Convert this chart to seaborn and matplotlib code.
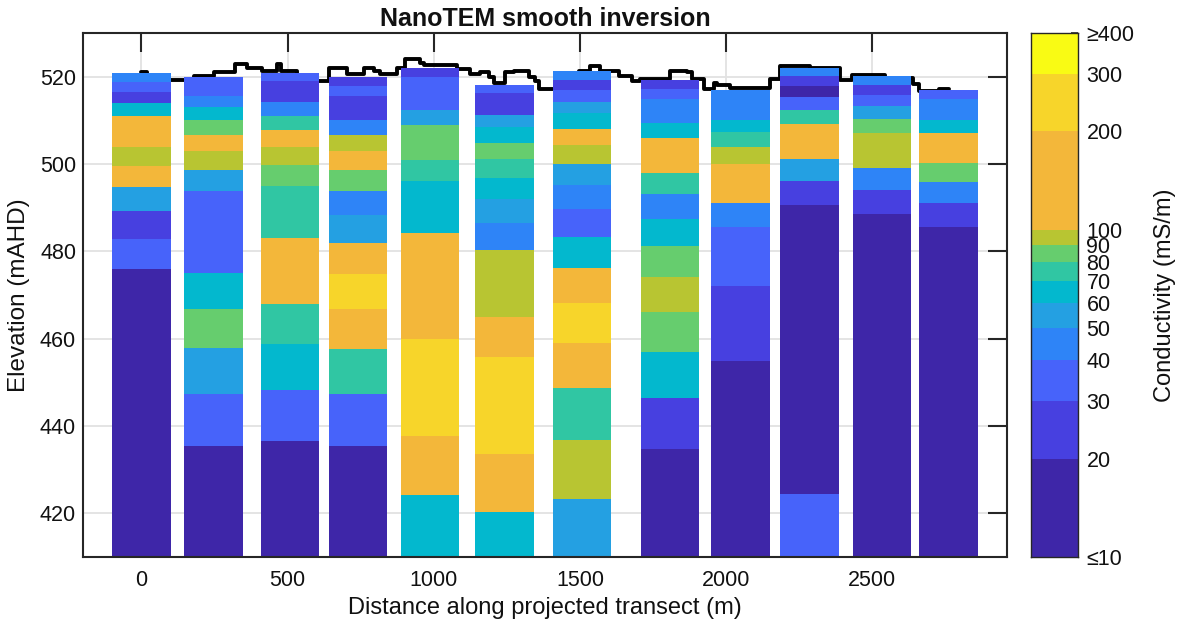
import matplotlib
matplotlib.use("Agg")
import matplotlib.pyplot as plt
from matplotlib.colors import ListedColormap, BoundaryNorm
import pandas as pd
import seaborn as sns

# Sounding positions along the projected transect (m)
station_dist = [0, 247, 508, 740, 987, 1242, 1507, 1809, 2049, 2286, 2533, 2761]

# Ground elevation at each sounding (mAHD)
station_top = [520.8, 519.9, 520.9, 519.9, 522.1, 518.1, 521.2, 519.2, 517.0, 522.1, 520.2, 517.0]

# Base of the deepest layer of every model (mAHD)
model_base = 400.0

# Layer base elevations (mAHD) for each sounding, top to bottom
layer_base = [
    [518.7, 516.6, 514.0, 510.9, 503.9, 499.6, 494.7, 489.2, 482.9, 475.9, model_base],
    [515.6, 513.1, 510.1, 506.7, 503.0, 498.7, 493.8, 475.0, 466.9, 457.8, 447.3, 435.5, model_base],
    [518.9, 514.1, 511.0, 507.8, 504.0, 499.7, 494.9, 483.1, 467.9, 458.8, 448.3, 436.5, model_base],
    [517.9, 515.6, 510.1, 506.7, 503.0, 498.6, 493.8, 488.3, 482.0, 474.9, 466.9, 457.7, 447.3, 435.4, model_base],
    [519.9, 512.3, 509.0, 500.9, 496.1, 484.2, 460.0, 437.7, 424.3, model_base],
    [516.2, 511.2, 508.4, 504.9, 501.2, 496.9, 492.1, 486.5, 480.2, 465.0, 455.9, 433.7, 420.2, model_base],
    [519.2, 517.0, 514.3, 511.6, 508.1, 504.4, 500.1, 495.3, 489.7, 483.4, 476.3, 468.2, 459.0, 448.6, 436.8, 423.4, model_base],
    [517.2, 514.9, 509.4, 506.0, 498.0, 493.1, 487.5, 481.3, 474.2, 466.2, 457.0, 446.5, 434.7, model_base],
    [510.1, 507.3, 503.9, 500.1, 491.0, 485.5, 472.1, 454.8, model_base],
    [520.2, 517.9, 515.3, 512.4, 509.1, 501.1, 496.2, 490.7, 424.4, model_base],
    [518.1, 515.9, 513.3, 510.4, 507.0, 499.0, 494.1, 488.6, model_base],
    [515.0, 510.1, 507.2, 500.2, 495.9, 491.1, 485.5, model_base],
]

# Layer conductivities (mS/m) for each sounding, top to bottom
layer_sigma = [
    [45, 35, 25, 65, 150, 95, 150, 55, 25, 35, 15],
    [35, 45, 65, 85, 150, 95, 55, 35, 65, 85, 55, 35, 15],
    [35, 25, 45, 75, 150, 95, 85, 75, 150, 75, 65, 35, 15],
    [25, 35, 25, 45, 95, 150, 85, 45, 55, 150, 250, 150, 75, 35, 15],
    [25, 35, 55, 85, 75, 65, 150, 250, 150, 65],
    [35, 25, 55, 65, 85, 75, 65, 55, 45, 95, 150, 250, 150, 65],
    [45, 25, 35, 55, 65, 150, 95, 55, 45, 35, 65, 150, 250, 150, 75, 95, 55],
    [25, 35, 45, 65, 150, 75, 45, 65, 85, 95, 85, 65, 25, 15],
    [45, 65, 75, 95, 150, 45, 35, 25, 15],
    [45, 25, 15, 35, 75, 150, 55, 25, 15, 35],
    [45, 25, 35, 55, 85, 95, 45, 25, 15],
    [35, 45, 65, 150, 85, 45, 25, 15],
]

# Ground surface profile along the transect (step breakpoints, m / mAHD)
topo_dist = [0, 19, 181, 247, 321, 361, 413, 464, 478, 532, 641, 703, 760, 795,
             817, 874, 903, 954, 966, 1080, 1125, 1159, 1188, 1205, 1245, 1273,
             1325, 1347, 1359, 1496, 1536, 1570, 1632, 1678, 1707, 1809, 1866,
             1883, 1923, 1957, 1969, 2014, 2151, 2185, 2288, 2391, 2431, 2544,
             2641, 2659, 2727, 2761]
topo_elev = [521.1, 519.2, 520.2, 521.1, 523.0, 522.0, 521.3, 522.9, 521.2, 519.1,
             522.1, 520.6, 521.9, 521.4, 520.6, 521.9, 524.1, 523.1, 522.7, 521.7,
             520.6, 521.1, 520.0, 518.5, 521.1, 521.4, 520.0, 519.1, 517.2, 521.4,
             522.4, 521.2, 520.1, 519.1, 519.4, 521.4, 521.0, 519.4, 517.2, 518.5,
             518.0, 517.3, 519.4, 522.5, 522.1, 519.2, 520.4, 519.6, 518.3, 516.8,
             517.2, 517.2]

# Conductivity classes and their colours
class_bounds = [10, 20, 30, 40, 50, 60, 70, 80, 90, 100, 200, 300, 400]
class_colors = ["#3E26A8", "#4740E0", "#4763FA", "#2E84F7", "#24A0E2", "#03B8CE",
                "#30C6A3", "#66CD6E", "#B8C532", "#F3B73A", "#F7D52A", "#F9FB14"]
class_labels = ["\u226410", "20", "30", "40", "50", "60", "70", "80", "90",
                "100", "200", "300", "\u2265400"]

bar_width = 200

sns.set_theme(style="white")
plt.rcParams["font.family"] = ["Liberation Sans", "DejaVu Sans"]

ink = "#262626"
text_col = "#111111"
cmap = ListedColormap(class_colors)
norm = BoundaryNorm(class_bounds, cmap.N)

# One row per model layer
rows = []
for dist, top, bases, sigmas in zip(station_dist, station_top, layer_base, layer_sigma):
    tops = [top] + bases[:-1]
    for t, b, s in zip(tops, bases, sigmas):
        rows.append({"dist": dist, "top": t, "base": b, "sigma": s})
layers = pd.DataFrame(rows)

fig = plt.figure(figsize=(11.94, 6.23), dpi=100)
ax = fig.add_axes([0.0695, 0.1059, 0.7739, 0.8411])
ax.set_axisbelow(True)
ax.grid(True, color="#e2e2e2", linewidth=1.3)

# Ground surface sits behind the soundings
sns.lineplot(x=topo_dist, y=topo_elev, ax=ax, color="black", linewidth=2.8,
             drawstyle="steps-post", sort=False, estimator=None, zorder=0.9)

ax.bar(layers["dist"], layers["top"] - layers["base"], bottom=layers["base"],
       width=bar_width, color=cmap(norm(layers["sigma"].values)),
       linewidth=0, zorder=1)

ax.set_xlim(station_dist[0] - bar_width, station_dist[-1] + bar_width)
ax.set_ylim(410, 530)
ax.set_xticks([0, 500, 1000, 1500, 2000, 2500])
ax.set_yticks([420, 440, 460, 480, 500, 520])
ax.tick_params(direction="in", length=14, width=1.5, color=ink, top=True,
               right=True, labelsize=15.5, labelcolor=text_col)
ax.tick_params(axis="x", pad=9)
ax.tick_params(axis="y", pad=5)
for sp in ax.spines.values():
    sp.set_visible(True)
    sp.set_color(ink)
    sp.set_linewidth(1.5)
    sp.set_zorder(3)

ax.set_xlabel("Distance along projected transect (m)", fontsize=17, color=text_col, labelpad=5)
ax.set_ylabel("Elevation (mAHD)", fontsize=17.5, color=text_col, labelpad=7)
ax.set_title("NanoTEM smooth inversion", fontsize=18, fontweight="bold", color=text_col, pad=5)

# Discrete colour scale on a logarithmic axis
cax = fig.add_axes([0.8635, 0.1059, 0.0394, 0.8411])
for lo, hi, col in zip(class_bounds[:-1], class_bounds[1:], class_colors):
    cax.bar(0, hi - lo, bottom=lo, width=1, color=col, linewidth=0)
cax.set_yscale("log")
cax.set_ylim(class_bounds[0], class_bounds[-1])
cax.set_xlim(-0.5, 0.5)
cax.set_xticks([])
cax.yaxis.set_minor_locator(matplotlib.ticker.NullLocator())
cax.set_yticks(class_bounds)
cax.set_yticklabels(class_labels)
cax.yaxis.tick_right()
cax.yaxis.set_label_position("right")
cax.tick_params(axis="y", which="major", direction="in", length=5, width=1.2,
                color=ink, labelsize=15.5, labelcolor=text_col, pad=6, left=False, right=True)
for sp in cax.spines.values():
    sp.set_visible(True)
    sp.set_color(ink)
    sp.set_linewidth(1.0)
cax.set_ylabel("Conductivity (mS/m)", fontsize=17, color=text_col, labelpad=14)

fig.savefig("out.png", dpi=100)
